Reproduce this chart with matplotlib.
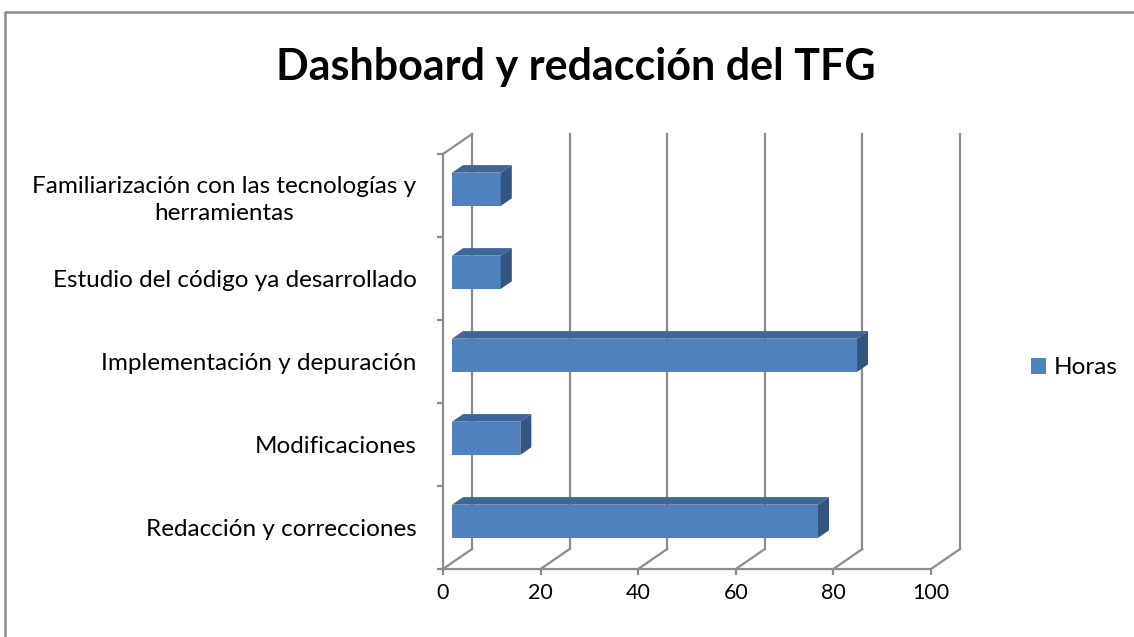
import matplotlib.pyplot as plt
from matplotlib.patches import Polygon
from matplotlib.lines import Line2D

plt.rcParams['font.family'] = ['Lato', 'DejaVu Sans']

# data
categorias = ['Redacción y correcciones',
              'Modificaciones',
              'Implementación y depuración',
              'Estudio del código ya desarrollado',
              'Familiarización con las tecnologías y\nherramientas']
horas = [75, 14, 83, 10, 10]
xticks = [0, 20, 40, 60, 80, 100]

gris = '#8c8c8c'
frente = '#4f81bd'
arriba = '#3e6698'
lado = '#33557f'

fig = plt.figure(figsize=(11.34, 6.37), dpi=100)
ax = fig.add_axes([443 / 1134, 68 / 637, 488 / 1134, 415 / 637])
ax.set_xlim(0, 100)
ax.set_ylim(-0.5, 4.5)

# depth of the 3d box in data units (29 px right, 20 px up)
dx = 29 * 100 / 488
dy = 20 * 5 / 415
f0, f1 = 0.31, 0.69  # bar front / back depth fraction
bh = 0.4

# back wall gridlines and floor diagonals
for t in xticks:
    ax.plot([t + dx, t + dx], [-0.5 + dy, 4.5 + dy], color=gris, lw=1.6, clip_on=False, zorder=1)
    ax.plot([t, t + dx], [-0.5, -0.5 + dy], color=gris, lw=1.6, clip_on=False, zorder=1)
ax.plot([0, dx], [4.5, 4.5 + dy], color=gris, lw=1.6, clip_on=False, zorder=1)

# bars: front face, top face, side face
ys = list(range(len(horas)))
ax.barh([y + f0 * dy for y in ys], horas, left=f0 * dx, height=bh, color=frente,
        zorder=3, label='Horas')
for y, v in zip(ys, horas):
    x0 = f0 * dx
    yb = y + f0 * dy
    ddx = (f1 - f0) * dx
    ddy = (f1 - f0) * dy
    top = [(x0, yb + bh / 2), (x0 + v, yb + bh / 2),
           (x0 + v + ddx, yb + bh / 2 + ddy), (x0 + ddx, yb + bh / 2 + ddy)]
    side = [(x0 + v, yb - bh / 2), (x0 + v, yb + bh / 2),
            (x0 + v + ddx, yb + bh / 2 + ddy), (x0 + v + ddx, yb - bh / 2 + ddy)]
    ax.add_patch(Polygon(top, closed=True, color=arriba, lw=0, zorder=3, clip_on=False))
    ax.add_patch(Polygon(side, closed=True, color=lado, lw=0, zorder=3, clip_on=False))

# axes
for s in ['top', 'right']:
    ax.spines[s].set_visible(False)
for s in ['left', 'bottom']:
    ax.spines[s].set_color(gris)
    ax.spines[s].set_linewidth(1.6)
ax.set_xticks(xticks)
ax.set_xticklabels([str(t) for t in xticks], fontsize=15.5)
ax.set_yticks(ys)
ax.set_yticklabels(categorias, fontsize=17.5, ha='right', multialignment='center')
for lab in ax.get_yticklabels():
    lab.set_linespacing(1.35)
ax.set_yticks([y - 0.5 for y in range(len(horas) + 1)], minor=True)
ax.tick_params(axis='y', which='major', length=0, pad=19)
ax.tick_params(axis='y', which='minor', length=4.3, width=1.6, color=gris)
ax.tick_params(axis='x', length=4.3, width=1.6, color=gris, pad=6)
ax.set_facecolor('none')

ax.legend(loc='center left', bbox_to_anchor=(1031 / 1134, 1 - 368 / 637),
          bbox_transform=fig.transFigure, frameon=False, fontsize=17.5,
          borderpad=0, borderaxespad=0,
          handlelength=0.6, handleheight=0.6, handletextpad=0.33)

fig.text(576 / 1134, 1 - 67 / 637, 'Dashboard y redacción del TFG', fontsize=31,
         fontweight='bold', ha='center', va='center')

# chart border (top and left visible)
fig.add_artist(Line2D([5 / 1134, 5 / 1134, 1.0], [0, 1 - 12 / 637, 1 - 12 / 637],
                      transform=fig.transFigure, color=gris, lw=1.8))

fig.savefig('out.png', dpi=100)
